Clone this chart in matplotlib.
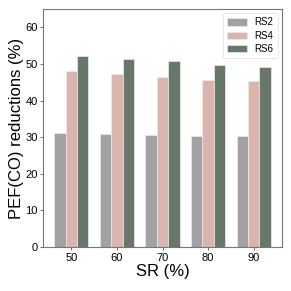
import numpy as np
import matplotlib.pyplot as plt

plt.rcParams['font.family'] = ['Liberation Sans', 'DejaVu Sans']

sr = ['50', '60', '70', '80', '90']
rs2 = [31.2, 30.9, 30.6, 30.4, 30.3]
rs4 = [48.0, 47.2, 46.5, 45.6, 45.3]
rs6 = [52.1, 51.4, 50.8, 49.8, 49.2]

colors = ['#a2a2a4', '#d9b5ae', '#67786b']
labels = ['RS2', 'RS4', 'RS6']

fig = plt.figure(figsize=(2.91, 2.91), dpi=100)
ax = fig.add_axes([0.148, 0.151, 0.821, 0.818])

x = np.arange(len(sr))
w = 0.25
for i, (vals, c, lab) in enumerate(zip([rs2, rs4, rs6], colors, labels)):
    ax.bar(x + (i - 1) * w, vals, w, color=c, edgecolor='#ececec',
           linewidth=0.5, label=lab)

ax.set_xlim(-0.62, 4.62)
ax.set_ylim(0, 65)
ax.set_xticks(x)
ax.set_xticklabels(sr)
ax.set_yticks(np.arange(0, 61, 10))
ax.tick_params(labelsize=8, length=2.5, width=0.6, color='#555555', pad=1.5)
for s in ax.spines.values():
    s.set_color('#777777')
    s.set_linewidth(0.8)

ax.set_xlabel('SR (%)', fontsize=12, labelpad=1)
ax.set_ylabel('PEF(CO) reductions (%)', fontsize=12, labelpad=1)

leg = ax.legend(loc='upper right', fontsize=7, frameon=True,
                handlelength=2.0, handleheight=0.8, borderpad=0.45,
                labelspacing=0.35, borderaxespad=0.4)
leg.get_frame().set_edgecolor('#dddddd')
leg.get_frame().set_linewidth(0.6)

plt.savefig('out.png', dpi=100)
plt.close()
